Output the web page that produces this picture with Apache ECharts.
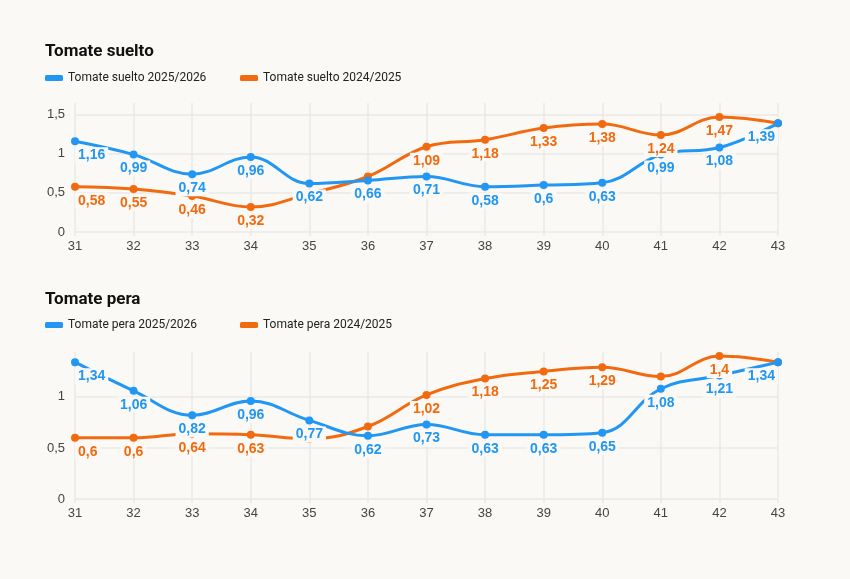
<!DOCTYPE html>
<html>
<head>
<meta charset="utf-8">
<script src="https://cdn.jsdelivr.net/npm/echarts@6/dist/echarts.min.js"></script>
<style>
  html, body { margin: 0; padding: 0; background: #faf9f5; }
  #chart { width: 850px; height: 579px; }
</style>
</head>
<body>
<div id="chart"></div>
<script>
// ---- Data ----
const weeks = ['31','32','33','34','35','36','37','38','39','40','41','42','43'];

const titleTop = 'Tomate suelto';
const sueltoNewName = 'Tomate suelto 2025/2026';
const sueltoOldName = 'Tomate suelto 2024/2025';
const sueltoNew = [1.16, 0.99, 0.74, 0.96, 0.62, 0.66, 0.71, 0.58, 0.6, 0.63, 0.99, 1.08, 1.39];
const sueltoOld = [0.58, 0.55, 0.46, 0.32, 0.49, 0.71, 1.09, 1.18, 1.33, 1.38, 1.24, 1.47, 1.39];

const titleBottom = 'Tomate pera';
const peraNewName = 'Tomate pera 2025/2026';
const peraOldName = 'Tomate pera 2024/2025';
const peraNew = [1.34, 1.06, 0.82, 0.96, 0.77, 0.62, 0.73, 0.63, 0.63, 0.65, 1.08, 1.21, 1.34];
const peraOld = [0.6, 0.6, 0.64, 0.63, 0.59, 0.71, 1.02, 1.18, 1.25, 1.29, 1.2, 1.4, 1.34];

const yTicksTop = [0, 0.5, 1, 1.5];
const yTicksBottom = [0, 0.5, 1];

// ---- Style ----
const BG = '#faf9f5';
const BLUE = '#2196f3';
const ORANGE = '#f26a10';
const GRID = '#ebe9e4';
const AXIS_FONT = '"Liberation Sans", Arial, sans-serif';
const UI_FONT = 'Roboto, "Noto Sans", sans-serif';

const fmt = v => String(v).replace('.', ',');

// labels hidden (overlapping) per series
const hideTop = { old: [4, 5, 12], nw: [] };
const hideBottom = { old: [4, 5, 10, 12], nw: [] };

function buildData(values, hidden) {
  const last = values.length - 1;
  return values.map((v, i) => {
    const item = { value: v };
    const lab = {};
    if (hidden.indexOf(i) >= 0) lab.show = false;
    if (i === 0) lab.align = 'left';
    if (i === last) lab.align = 'right';
    item.label = lab;
    return item;
  });
}

function lineSeries(name, color, values, hidden, gi) {
  return {
    name: name,
    type: 'line',
    xAxisIndex: gi,
    yAxisIndex: gi,
    smooth: 0.4,
    symbol: 'circle',
    symbolSize: 8,
    lineStyle: { width: 3, color: color },
    itemStyle: { color: color },
    data: buildData(values, hidden),
    label: {
      show: true,
      position: 'bottom',
      distance: 2,
      color: color,
      fontFamily: AXIS_FONT,
      fontWeight: 'bold',
      fontSize: 14,
      backgroundColor: BG,
      padding: [1, 3, 1, 3],
      formatter: p => fmt(p.value)
    }
  };
}

function xAxis(gi) {
  return {
    type: 'category',
    gridIndex: gi,
    data: weeks,
    boundaryGap: false,
    axisLine: { show: false },
    axisTick: { show: true, length: 4, lineStyle: { color: GRID, width: 1.5 } },
    axisLabel: { color: '#444', fontSize: 13, fontFamily: AXIS_FONT, margin: 8 },
    splitLine: { show: true, lineStyle: { color: GRID, width: 1.5 } }
  };
}

function yAxis(gi, max, ticks) {
  return {
    type: 'value',
    gridIndex: gi,
    min: 0,
    max: max,
    interval: 0.5,
    axisLine: { show: false },
    axisTick: { show: false },
    axisLabel: {
      color: '#444', fontSize: 13, fontFamily: AXIS_FONT, margin: 10,
      showMaxLabel: false,
      formatter: v => (ticks.indexOf(v) >= 0 ? fmt(v) : '')
    },
    splitLine: { show: true, showMaxLine: false, lineStyle: { color: GRID, width: 1.5 } }
  };
}

function legend(name, color, left, top) {
  return {
    data: [{ name: name, itemStyle: { color: color } }],
    left: left,
    top: top,
    icon: 'roundRect',
    itemWidth: 18,
    itemHeight: 6,
    textStyle: { color: '#222', fontSize: 12, fontFamily: UI_FONT },
    selectedMode: false
  };
}

const chart = echarts.init(document.getElementById('chart'), null, { renderer: 'canvas' });
chart.setOption({
  backgroundColor: BG,
  animation: false,
  title: [
    { text: titleTop, left: 40, top: 38, textStyle: { fontSize: 17, fontWeight: 'bold', color: '#111', fontFamily: UI_FONT } },
    { text: titleBottom, left: 40, top: 286, textStyle: { fontSize: 17, fontWeight: 'bold', color: '#111', fontFamily: UI_FONT } }
  ],
  legend: [
    legend(sueltoNewName, BLUE, 40, 67),
    legend(sueltoOldName, ORANGE, 235, 67),
    legend(peraNewName, BLUE, 40, 314),
    legend(peraOldName, ORANGE, 235, 314)
  ],
  grid: [
    { left: 75, right: 72, top: 103, bottom: 347 },
    { left: 75, right: 72, top: 352, bottom: 80 }
  ],
  xAxis: [xAxis(0), xAxis(1)],
  yAxis: [yAxis(0, 1.65, yTicksTop), yAxis(1, 1.44, yTicksBottom)],
  series: [
    lineSeries(sueltoOldName, ORANGE, sueltoOld, hideTop.old, 0),
    lineSeries(sueltoNewName, BLUE, sueltoNew, hideTop.nw, 0),
    lineSeries(peraOldName, ORANGE, peraOld, hideBottom.old, 1),
    lineSeries(peraNewName, BLUE, peraNew, hideBottom.nw, 1)
  ]
});
</script>
</body>
</html>
